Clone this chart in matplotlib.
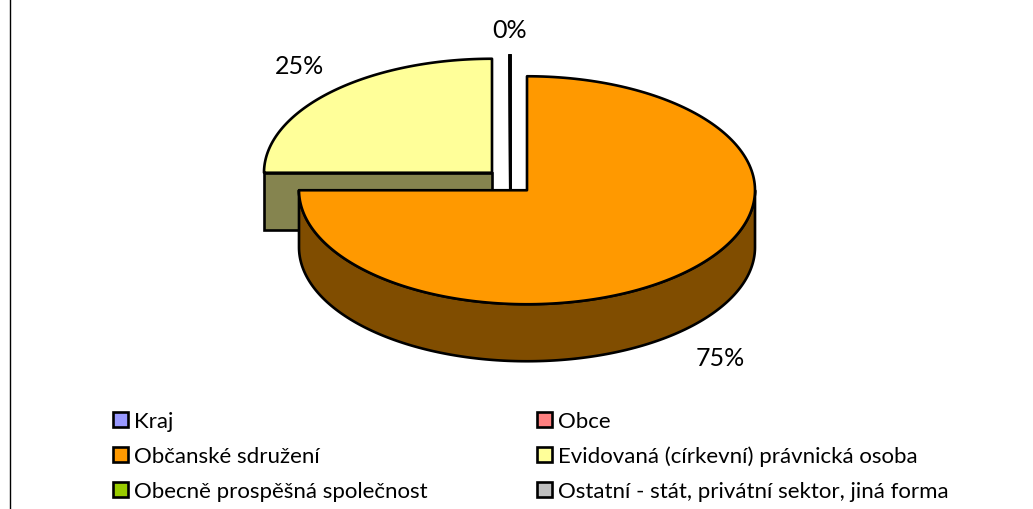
import numpy as np
import matplotlib
matplotlib.use('Agg')
import matplotlib.pyplot as plt
from matplotlib.patches import Polygon, Rectangle

plt.rcParams['font.family'] = ['Lato', 'DejaVu Sans']

categories = ['Kraj', 'Obce', 'Občanské sdružení', 'Evidovaná (církevní) právnická osoba',
              'Obecně prospěšná společnost', 'Ostatní - stát, privátní sektor, jiná forma']
shares = [0, 0, 75, 25, 0, 0]
colors = ['#9999FF', '#FF8080', '#FF9900', '#FFFF99', '#99CC00', '#C0C0C0']
side_colors = ['#4D4D80', '#804040', '#804D00', '#85844F', '#4D6600', '#606060']

# pie geometry, in pixels of the picture
cx, cy = 509.5, 182.5
rx, ry = 228, 114
depth = 57
explode = 24.75
LW = 1.9


def slice_center(mid):
    a = np.radians(mid)
    return cx + explode * np.sin(a), cy - explode * np.cos(a) * 0.5


def rim(x0, y0, start, end, n=200):
    # angles clockwise from 12 o'clock
    a = np.radians(np.linspace(start, end, n))
    return x0 + rx * np.sin(a), y0 - ry * np.cos(a)


fig = plt.figure(figsize=(10.33, 5.1), dpi=100)
ax = fig.add_axes([0, 0, 1, 1])
ax.set_xlim(0, 1033)
ax.set_ylim(510, 0)
ax.axis('off')

# left frame line
ax.plot([9.5, 9.5], [0, 510], color='black', lw=1, solid_capstyle='butt')

# slice angles from the values
total = sum(shares)
angle = 0
slices = []
for i, s in enumerate(shares):
    sweep = 360 * s / total
    slices.append((i, angle, angle + sweep))
    angle += sweep

# back to front: the yellow slice, the empty ones, then the orange one
order = [3, 0, 1, 4, 5, 2]
for i in order:
    _, start, end = slices[i]
    x0, y0 = slice_center((start + end) / 2)
    if shares[i] == 0:
        xs, ys = rim(x0, y0, start, end, 2)
        ax.plot([x0, xs[0]], [y0 + depth, ys[0]], color='black', lw=LW, zorder=2)
        continue
    xs, ys = rim(x0, y0, start, end)
    # side wall
    if start < 180 < end or start < 90:
        sx, sy = rim(x0, y0, 90, 270)
        ax.add_patch(Polygon(np.r_[np.c_[sx, sy], np.c_[sx[::-1], sy[::-1] + depth]],
                             fc=side_colors[i], ec='black', lw=LW, joinstyle='round', zorder=3))
    else:
        ax.add_patch(Rectangle((xs[0], y0), rx, depth, fc=side_colors[i], ec='black', lw=LW, zorder=1))
    # top face
    ax.add_patch(Polygon(np.r_[[[x0, y0]], np.c_[xs, ys]], closed=True, fc=colors[i], ec='black',
                         lw=LW, joinstyle='round', zorder=3 if i == 2 else 1))

# percent labels
label_pos = {1: (509.5, 30), 3: (299, 67), 2: (720, 359)}
for i, (lx, ly) in label_pos.items():
    ax.text(lx, ly, f'{shares[i]}%', fontsize=18, color='black', ha='center', va='center', zorder=5)

# legend
col_x = [112.5, 537]
text_x = [134, 558]
row_y = [420.5, 455.5, 490.5]
for i, name in enumerate(categories):
    x = col_x[i % 2]
    y = row_y[i // 2]
    ax.add_patch(Rectangle((x, y - 7.5), 15, 15, fc=colors[i], ec='black', lw=1.9, zorder=4))
    ax.text(text_x[i % 2], y + 1.5, name, fontsize=16, color='black', ha='left', va='center', zorder=5)

fig.savefig('out.png', dpi=100)
